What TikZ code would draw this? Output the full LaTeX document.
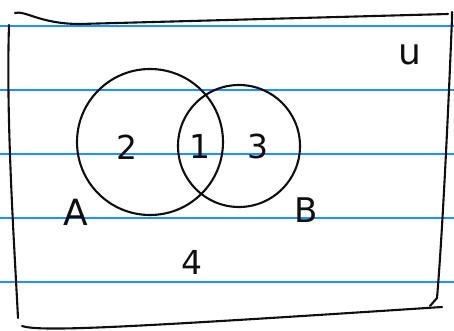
\documentclass[tikz,border=0pt]{standalone}
\usepackage{fontspec}
\setmainfont{DejaVu Sans}
\definecolor{paper}{RGB}{30,144,255}
\definecolor{ink}{RGB}{15,15,15}
\tikzset{
  rule/.style={draw=paper,line width=1.1pt},
  pen/.style={draw=ink,line width=2.1pt,line cap=round,line join=round},
  set/.style={circle,pen,inner sep=0pt,minimum size=#1},
  hand/.style={text=ink,font=\fontsize{#1}{#1}\selectfont},
  hand/.default=33,
}
\begin{document}
\begin{tikzpicture}[x=1pt,y=-1pt]
    \useasboundingbox (0,0) rectangle (454,331);
    % ruled paper
    \foreach \y in {26,90,154,218,282} \draw[rule] (0,\y) -- (454,\y);
    % universe frame
    \draw[pen] (15,13) .. controls (25,10) and (40,24) .. (80,24) -- (448,14);
    \draw[pen] (452,12) -- (452,18) .. controls (448,120) and (442,240) .. (437,298) -- (430,306);
    \draw[pen] (9,25) .. controls (6,120) and (14,240) .. (18,318);
    \draw[pen] (22,326) .. controls (40,332) and (120,328) .. (442,307);
    % the two sets
    \node[set=146pt] (a) at (150,142) {};
    \node[set=122pt] (b) at (239,146) {};
    % region counts
    \node[hand] (n2) at (127,147) {2};
    \node[hand] (n1) at (200,146) {1};
    \node[hand] (n3) at (258,146) {3};
    \node[hand] (n4) at (192,262) {4};
    % set names
    \node[hand=36] (la) at (76,212) {A};
    \node[hand=34] (lb) at (306,210) {B};
    \node[hand=36] (u) at (410,55) {u};
\end{tikzpicture}
\end{document}
